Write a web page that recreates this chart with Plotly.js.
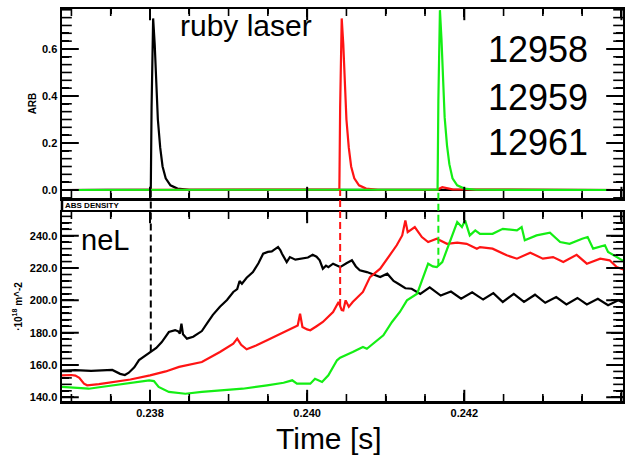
<!DOCTYPE html>
<html>
<head>
<meta charset="utf-8">
<script src="https://cdn.plot.ly/plotly-3.0.1.min.js"></script>
<style>
html,body{margin:0;padding:0;overflow:hidden;background:#fff;}
#chart{width:625px;height:457px;}
</style>
</head>
<body>
<div id="chart"></div>
<script>
// ---------- DATA ----------
// Upper panel: ruby laser signal (ARB)
const arbTimeBlack = [0.23688, 0.23801, 0.23802, 0.23804, 0.23806, 0.23808, 0.23810, 0.23813, 0.23816, 0.23820, 0.23826, 0.23835, 0.23850, 0.24405];
const arbBlack     = [0, 0.002, 0.35, 0.73, 0.62, 0.45, 0.30, 0.18, 0.10, 0.05, 0.02, 0.006, 0.001, 0];
const arbTimeRed   = [0.23688, 0.24041, 0.24042, 0.24044, 0.24046, 0.24048, 0.24050, 0.24053, 0.24056, 0.24060, 0.24066, 0.24075, 0.24090, 0.24166, 0.24172, 0.24185, 0.24405];
const arbRed       = [0, 0.002, 0.35, 0.73, 0.62, 0.45, 0.30, 0.18, 0.10, 0.05, 0.02, 0.006, 0.001, 0.002, 0.012, 0.003, 0];
const arbTimeGreen = [0.23688, 0.24166, 0.24167, 0.24169, 0.24171, 0.24173, 0.24175, 0.24178, 0.24181, 0.24185, 0.24191, 0.24200, 0.24215, 0.24405];
const arbGreen     = [0, 0.002, 0.38, 0.765, 0.64, 0.46, 0.31, 0.19, 0.11, 0.05, 0.02, 0.006, 0.001, 0];

// Lower panel: line density neL (10^18 m^-2)
const denTimeBlack = [0.23688,0.23705,0.23725,0.23743,0.23752,0.23762,0.23768,0.23773,0.23780,0.23786,0.23793,0.23800,0.23808,0.23815,0.23820,0.23824,0.23832,0.23836,0.23838,0.23840,0.23842,0.23847,0.23855,0.23866,0.23873,0.23880,0.23889,0.23898,0.23906,0.23911,0.23914,0.23917,0.23923,0.23931,0.23938,0.23944,0.23950,0.23955,0.23960,0.23963,0.23966,0.23968,0.23974,0.23978,0.23985,0.23995,0.24001,0.24007,0.24012,0.24016,0.24020,0.24024,0.24027,0.24033,0.24042,0.24050,0.24057,0.24062,0.24067,0.24076,0.24086,0.24093,0.24102,0.24110,0.24116,0.24125,0.24133,0.24144,0.24156,0.24170,0.24183,0.24196,0.24210,0.24224,0.24237,0.24249,0.24263,0.24276,0.24290,0.24303,0.24317,0.24330,0.24344,0.24356,0.24370,0.24383,0.24396,0.24405];
const denBlack     = [156.5,156.8,156.3,156.6,156.9,154.5,153.8,155.2,158.5,163.0,165.5,168.0,170.5,174.2,178.0,180.4,181.6,180.8,179.4,185.6,179.0,176.3,177.5,181.0,186.0,191.0,196.0,200.2,205.2,207.0,212.0,210.3,214.0,217.5,223.0,228.9,230.0,230.3,232.0,233.0,231.0,228.9,223.7,226.8,225.2,225.8,226.5,228.2,227.0,224.8,219.6,221.5,220.6,222.7,220.6,223.0,224.8,221.0,218.6,217.5,215.5,214.4,216.5,212.0,210.3,207.5,207.2,204.0,208.0,203.0,205.5,201.0,205.0,200.5,204.5,199.0,204.0,199.0,203.5,198.5,202.0,197.5,201.5,197.5,201.0,197.0,200.0,198.0];

const denTimeRed = [0.23688,0.23700,0.23705,0.23710,0.23716,0.23720,0.23735,0.23752,0.23775,0.23800,0.23820,0.23837,0.23866,0.23889,0.23906,0.23911,0.23916,0.23923,0.23935,0.23949,0.23962,0.23974,0.23988,0.23991,0.23994,0.24000,0.24004,0.24012,0.24020,0.24033,0.24040,0.24044,0.24046,0.24049,0.24053,0.24058,0.24065,0.24071,0.24080,0.24093,0.24105,0.24114,0.24121,0.24125,0.24128,0.24132,0.24137,0.24142,0.24146,0.24154,0.24165,0.24178,0.24191,0.24203,0.24216,0.24220,0.24236,0.24254,0.24267,0.24284,0.24300,0.24313,0.24326,0.24343,0.24356,0.24373,0.24385,0.24394,0.24405];
const denRed     = [153.6,153.8,153.4,152.0,148.4,147.4,148.2,149.5,151.0,153.6,156.0,158.8,161.8,168.0,173.2,176.3,172.5,169.7,172.0,175.3,178.5,181.5,184.5,191.7,183.5,182.0,181.5,184.0,186.6,192.8,199.0,194.0,193.8,200.0,196.0,199.0,202.5,205.2,214.4,219.6,227.9,234.1,240.2,249.5,242.3,243.5,245.4,242.0,239.2,236.1,238.1,235.0,235.7,235.0,232.0,233.0,232.0,227.9,225.8,229.5,225.8,226.8,223.7,228.2,222.7,225.8,224.8,220.6,218.6];

const denTimeGreen = [0.23688,0.23700,0.23722,0.23740,0.23752,0.23775,0.23799,0.23805,0.23811,0.23824,0.23845,0.23866,0.23898,0.23918,0.23949,0.23970,0.23981,0.23987,0.24004,0.24010,0.24019,0.24027,0.24038,0.24042,0.24058,0.24071,0.24076,0.24084,0.24097,0.24108,0.24118,0.24127,0.24140,0.24147,0.24154,0.24160,0.24165,0.24172,0.24182,0.24191,0.24197,0.24201,0.24207,0.24214,0.24220,0.24236,0.24249,0.24267,0.24273,0.24277,0.24292,0.24309,0.24322,0.24334,0.24350,0.24357,0.24364,0.24379,0.24383,0.24394,0.24405];
const denGreen     = [146.4,146.0,145.3,146.5,147.4,148.8,150.5,150.0,146.4,143.3,142.2,143.3,144.3,145.3,147.4,149.0,150.5,148.4,148.4,151.5,149.5,153.6,162.9,164.5,168.0,171.1,170.0,173.2,178.4,186.6,192.8,200.0,204.1,213.4,222.7,221.0,220.6,223.7,236.1,248.5,245.4,249.5,240.2,243.3,241.2,241.2,244.3,243.3,245.4,237.2,240.2,241.9,236.1,235.0,238.1,239.2,232.0,234.1,230.0,226.8,223.7];

const laserTimes = [0.23801, 0.24042, 0.24167];
const shotLabels = ['12958', '12959', '12961'];
const xTickVals = [0.238, 0.240, 0.242, 0.244];
const lowerTickVals = [140, 160, 180, 200, 220, 240];
const upperTickVals = [0.0, 0.2, 0.4, 0.6];

// ---------- STYLE / LAYOUT ----------
const colors = ['#000000', '#ff1414', '#14ee14'];
const W = 625, H = 457;
const M = {l: 62, r: 2, t: 9, b: 56};
const plotW = W - M.l - M.r, plotH = H - M.t - M.b;
const upperDomain = [(H - M.b - 198) / plotH, 1];
const lowerDomain = [0, (H - M.b - 212) / plotH];
const xRange = [0.23688, 0.24402];
const upperRange = [-0.034, 0.770];
const lowerRange = [137.7, 254.7];
const px = x => (x - M.l) / plotW;
const py = y => (H - M.b - y) / plotH;
const FONT = 'Liberation Sans, Arial, sans-serif';

function interp(ts, vs, t) {
  for (let i = 0; i < ts.length - 1; i++) {
    if (t >= ts[i] && t <= ts[i + 1]) {
      const f = (t - ts[i]) / (ts[i + 1] - ts[i]);
      return vs[i] + f * (vs[i + 1] - vs[i]);
    }
  }
  return vs[vs.length - 1];
}
const paperLower = v => lowerDomain[0] + (v - lowerRange[0]) / (lowerRange[1] - lowerRange[0]) * (lowerDomain[1] - lowerDomain[0]);
const paperUpper = v => upperDomain[0] + (v - upperRange[0]) / (upperRange[1] - upperRange[0]) * (upperDomain[1] - upperDomain[0]);

const arbT = [arbTimeBlack, arbTimeRed, arbTimeGreen];
const arbV = [arbBlack, arbRed, arbGreen];
const denT = [denTimeBlack, denTimeRed, denTimeGreen];
const denV = [denBlack, denRed, denGreen];

const traces = [];
for (let i = 0; i < 3; i++) {
  traces.push({x: arbT[i], y: arbV[i], xaxis: 'x2', yaxis: 'y2', type: 'scatter', mode: 'lines',
    line: {color: colors[i], width: 2.2}, name: shotLabels[i], showlegend: false, hoverinfo: 'skip'});
}
for (let i = 0; i < 3; i++) {
  traces.push({x: denT[i], y: denV[i], xaxis: 'x', yaxis: 'y', type: 'scatter', mode: 'lines',
    line: {color: colors[i], width: 2.2}, name: shotLabels[i], showlegend: false, hoverinfo: 'skip'});
}

// ---- inside tick marks as clipped line-markers on the frame (half of each marker is clipped away) ----
function range(start, stop, step) {
  const out = [];
  const n0 = Math.ceil(start / step - 1e-9), n1 = Math.floor(stop / step + 1e-9);
  for (let n = n0; n <= n1; n++) out.push(+(n * step).toFixed(6));
  return out;
}
const near = (v, arr, tol) => arr.some(m => Math.abs(m - v) < tol);
const xMinor = range(xRange[0], xRange[1], 0.0005).filter(v => !near(v, xTickVals, 1e-7));
const lowerMinor = range(lowerRange[0], lowerRange[1], 4).filter(v => !near(v, lowerTickVals, 1e-6));
const upperMinor = range(upperRange[0], upperRange[1], 0.2 / 6).filter(v => !near(v, upperTickVals, 1e-4));

function xTickMarks(xa, ya, yr, vals, len, w) {
  const X = [], Y = [];
  vals.forEach(v => { X.push(v, v); Y.push(yr[0], yr[1]); });
  return {x: X, y: Y, xaxis: xa, yaxis: ya, type: 'scatter', mode: 'markers', cliponaxis: true,
    marker: {symbol: 'line-ns-open', size: 2 * len, line: {color: '#000', width: w}, color: '#000'},
    showlegend: false, hoverinfo: 'skip'};
}
function yTickMarks(xa, ya, vals, len, w) {
  const X = [], Y = [];
  vals.forEach(v => { X.push(xRange[0], xRange[1]); Y.push(v, v); });
  return {x: X, y: Y, xaxis: xa, yaxis: ya, type: 'scatter', mode: 'markers', cliponaxis: true,
    marker: {symbol: 'line-ew-open', size: 2 * len, line: {color: '#000', width: w}, color: '#000'},
    showlegend: false, hoverinfo: 'skip'};
}
traces.push(xTickMarks('x', 'y', lowerRange, xTickVals, 8, 2));
traces.push(xTickMarks('x', 'y', lowerRange, xMinor, 5, 1.6));
traces.push(xTickMarks('x2', 'y2', upperRange, xTickVals, 8, 2));
traces.push(xTickMarks('x2', 'y2', upperRange, xMinor, 5, 1.6));
traces.push(yTickMarks('x', 'y', lowerTickVals, 12, 2));
traces.push(yTickMarks('x', 'y', lowerMinor, 7, 1.6));
traces.push(yTickMarks('x2', 'y2', upperTickVals, 12, 2));
traces.push(yTickMarks('x2', 'y2', upperMinor, 7, 1.6));

const shapes = [];
// laser-time markers: from the laser baseline down to each shot's density curve
for (let i = 0; i < 3; i++) {
  const t = laserTimes[i];
  const v = interp(denT[i], denV[i], t);
  shapes.push({type: 'line', xref: 'x', yref: 'paper', x0: t, x1: t,
    y0: paperLower(v), y1: paperUpper(0),
    line: {color: colors[i], width: 2, dash: '7px,4px'}});
}
// frame segment across the header strip
shapes.push({type: 'line', xref: 'paper', yref: 'paper', x0: 0, x1: 0, y0: lowerDomain[1], y1: upperDomain[0], line: {color: '#000', width: 2.5}});

const tickFont = {family: FONT, size: 11, color: '#000', weight: 'bold'};
function axisBase(len, minorDtick, minorLen) {
  return {showline: true, linecolor: '#000', linewidth: 2.5, mirror: 'ticks', ticks: 'inside',
    ticklen: len, tickwidth: 2, tickcolor: '#000', showgrid: false, zeroline: false, tickfont: tickFont,
    minor: {dtick: minorDtick, ticks: 'inside', ticklen: minorLen, tickwidth: 1.6, tickcolor: '#000', showgrid: false}};
}

const layout = {
  width: W, height: H, margin: M, paper_bgcolor: '#fff', plot_bgcolor: '#fff', showlegend: false,
  font: {family: FONT, color: '#000'},
  xaxis: Object.assign(axisBase(8, 0.0005, 5), {anchor: 'y', range: xRange, tickmode: 'array', tickvals: xTickVals, tickformat: '.3f'}),
  xaxis2: Object.assign(axisBase(8, 0.0005, 5), {anchor: 'y2', range: xRange, tickmode: 'array', tickvals: xTickVals, showticklabels: false}),
  yaxis: Object.assign(axisBase(12, 4, 7), {anchor: 'x', domain: lowerDomain, range: lowerRange, tickmode: 'array', tickvals: lowerTickVals, tickformat: '.1f',
    title: {text: '·10<sup>18</sup> m^-2', font: {family: FONT, size: 10, weight: 'bold'}, standoff: 6}}),
  yaxis2: Object.assign(axisBase(12, 0.2 / 6, 7), {anchor: 'x2', domain: upperDomain, range: upperRange, tickmode: 'array', tickvals: upperTickVals, tickformat: '.1f',
    title: {text: 'ARB', font: {family: FONT, size: 10, weight: 'bold'}, standoff: 4}}),
  shapes: shapes,
  annotations: [
    {text: 'ruby laser', xref: 'paper', yref: 'paper', x: px(246), y: py(25), showarrow: false, font: {family: FONT, size: 30, color: '#000'}, xanchor: 'center', yanchor: 'middle'},
    {text: shotLabels[0], xref: 'paper', yref: 'paper', x: px(538), y: py(50), showarrow: false, font: {family: FONT, size: 36, color: '#000'}, xanchor: 'center', yanchor: 'middle'},
    {text: shotLabels[1], xref: 'paper', yref: 'paper', x: px(538), y: py(97), showarrow: false, font: {family: FONT, size: 36, color: '#000'}, xanchor: 'center', yanchor: 'middle'},
    {text: shotLabels[2], xref: 'paper', yref: 'paper', x: px(538), y: py(142), showarrow: false, font: {family: FONT, size: 36, color: '#000'}, xanchor: 'center', yanchor: 'middle'},
    {text: 'neL', xref: 'paper', yref: 'paper', x: px(105), y: py(240), showarrow: false, font: {family: FONT, size: 29, color: '#000'}, xanchor: 'center', yanchor: 'middle'},
    {text: 'Time [s]', xref: 'paper', yref: 'paper', x: px(329), y: py(438), showarrow: false, font: {family: FONT, size: 30, color: '#000'}, xanchor: 'center', yanchor: 'middle'},
    {text: 'ABS DENSITY', xref: 'paper', yref: 'paper', x: px(63), y: py(205.5), showarrow: false, font: {family: FONT, size: 8, color: '#000', weight: 'bold'}, xanchor: 'left', yanchor: 'middle'}
  ]
};

Plotly.newPlot('chart', traces, layout, {staticPlot: true, displayModeBar: false});
</script>
</body>
</html>
